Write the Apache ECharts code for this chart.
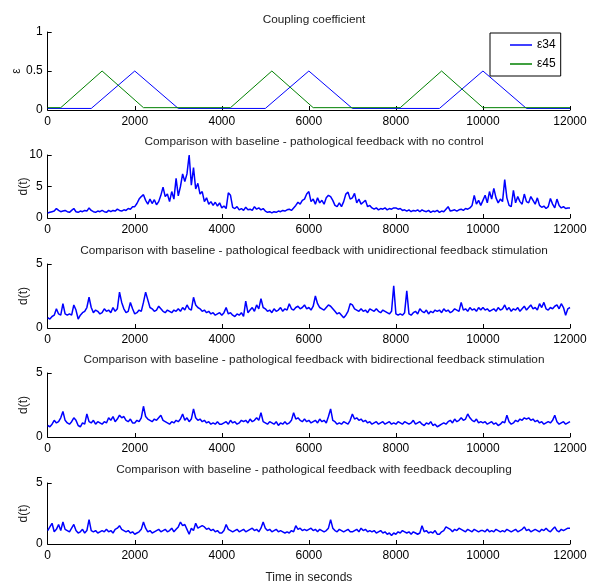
<!DOCTYPE html>
<html>
<head>
<meta charset="utf-8">
<script src="https://cdn.jsdelivr.net/npm/echarts@6/dist/echarts.min.js"></script>
<style>
html, body { margin: 0; padding: 0; background: #fff; }
#chart { width: 592px; height: 585px; }
</style>
</head>
<body>
<div id="chart"></div>
<script>
// coupling coefficient breakpoints (seconds, value)
var eps34T = [0, 1000, 2000, 3000, 5000, 6000, 7000, 9000, 10000, 11000, 12000]
var eps34V = [0.02, 0.02, 0.5, 0.02, 0.02, 0.5, 0.02, 0.02, 0.5, 0.02, 0.02]
var eps45T = [0, 300, 1250, 2200, 4200, 5150, 6100, 8100, 9050, 10000, 12000]
var eps45V = [0.03, 0.03, 0.5, 0.03, 0.03, 0.5, 0.03, 0.03, 0.5, 0.03, 0.03]

// d(t) samples, one every 50 s
var step = 50
var noControl = [
  0.8, 0.9, 1.0, 1.1, 1.5, 1.2, 1.0, 1.1, 1.2, 1.0, 0.9, 1.2, 1.5, 1.0, 0.9, 1.1, 1.0, 1.2, 1.1, 1.6,
  1.2, 1.0, 0.9, 1.1, 1.0, 1.2, 1.0, 0.9, 1.2, 1.0, 1.2, 1.1, 1.4, 1.2, 1.1, 1.3, 1.2, 1.5, 1.4, 1.8,
  1.8, 2.3, 3.0, 3.4, 3.7, 2.8, 2.2, 3.0, 2.3, 2.9, 2.1, 2.6, 3.6, 4.9, 3.4, 3.8, 2.6, 4.2, 3.0, 6.3,
  3.5, 5.0, 7.0, 5.8, 7.0, 10.0, 5.2, 8.0, 4.6, 5.5, 3.8, 4.2, 2.6, 3.2, 2.2, 2.6, 2.0, 2.5, 1.9, 2.4,
  1.6, 1.9, 1.5, 4.0, 3.6, 1.7, 1.5, 1.8, 1.3, 1.5, 1.2, 1.7, 1.3, 1.4, 1.2, 1.8, 1.4, 1.6, 1.3, 1.5,
  1.1, 0.9, 1.0, 0.8, 1.0, 0.9, 1.1, 1.0, 1.2, 1.1, 1.3, 1.4, 1.2, 1.6, 2.0, 2.5, 2.2, 2.8, 3.0, 3.8,
  4.2, 2.6, 3.0, 2.2, 3.2, 2.4, 2.8, 2.2, 3.2, 3.6, 3.4, 2.8, 2.0, 1.8, 2.4, 1.8, 2.6, 3.8, 4.1, 3.0,
  3.2, 3.9, 2.4, 3.0, 2.2, 2.5, 2.8, 1.8, 2.0, 1.6, 1.4, 1.6, 1.3, 1.5, 1.4, 1.6, 1.3, 1.5, 1.4, 1.6,
  1.6, 1.4, 1.5, 1.2, 1.3, 1.1, 1.3, 1.0, 1.2, 1.1, 1.3, 1.0, 1.3, 1.1, 1.0, 1.2, 0.9, 1.1, 1.0, 1.2,
  0.9, 1.1, 1.0, 1.4, 1.8, 1.1, 1.2, 1.3, 1.1, 1.3, 1.4, 1.2, 1.5, 1.4, 1.6, 2.0, 3.6, 2.2, 2.8, 2.0,
  2.8, 3.6, 2.4, 4.2, 3.0, 4.7, 3.2, 2.4, 3.0, 2.6, 6.1, 3.2, 2.0, 1.8, 4.4, 2.4, 3.4, 2.6, 2.2, 3.8,
  2.6, 2.4, 3.4, 2.8, 2.2, 3.2, 2.0, 1.7, 1.9, 1.5, 1.8, 3.1, 2.2, 1.6, 3.0, 2.0, 1.6, 1.8, 1.5, 1.6,
  1.6
]
var unidirectional = [
  0.8, 0.7, 0.9, 1.0, 1.5, 1.1, 1.0, 1.9, 1.1, 1.0, 1.1, 1.0, 1.8, 1.4, 0.7, 1.0, 1.2, 1.3, 1.6, 2.4,
  1.6, 1.2, 1.4, 1.3, 1.1, 1.2, 1.5, 1.3, 1.4, 1.2, 1.6, 1.3, 1.5, 2.8, 2.0, 1.5, 1.2, 1.3, 2.0, 1.5,
  1.1, 1.2, 1.4, 1.3, 2.0, 2.8, 2.2, 1.6, 1.5, 1.3, 1.4, 1.7, 1.5, 1.3, 1.2, 1.4, 1.3, 1.2, 1.4, 1.3,
  1.5, 1.3, 1.6, 1.4, 1.8, 1.5, 1.4, 2.4, 1.8, 1.6, 1.5, 1.3, 1.4, 1.2, 1.3, 1.1, 1.2, 1.0, 1.1, 1.2,
  1.0, 1.2, 1.6, 1.1, 1.2, 1.0, 0.9, 1.1, 1.0, 1.2, 0.9, 2.1, 1.2, 1.4, 1.6, 1.3, 1.8, 1.5, 2.3, 1.6,
  1.5, 1.3, 1.4, 1.2, 1.5, 1.3, 1.4, 1.6, 1.3, 1.5, 1.4, 1.9, 1.5, 1.4, 1.6, 1.7, 1.5, 1.6, 1.8, 1.5,
  1.6, 1.4, 1.7, 2.5, 1.9, 1.6, 1.5, 1.4, 1.6, 1.8, 1.7, 1.5, 1.3, 1.1, 1.2, 1.0, 0.8, 1.0, 1.3, 1.9,
  1.8, 1.5, 1.4, 1.3, 1.5, 1.3, 1.4, 1.2, 1.5, 1.4, 1.3, 1.5, 1.3, 1.2, 1.4, 1.3, 1.2, 1.1, 1.3, 3.3,
  1.1, 1.0, 1.1, 1.0, 1.2, 2.9, 1.1, 1.0, 1.2, 1.3, 1.1, 1.5, 1.3, 1.2, 1.4, 1.1, 1.3, 1.2, 1.4, 1.3,
  1.4, 1.2, 1.5, 1.3, 1.4, 1.2, 1.3, 1.5, 1.4, 1.3, 2.0, 1.4, 1.5, 1.3, 1.6, 1.4, 1.5, 1.3, 1.6, 1.4,
  1.6, 1.4, 1.5, 1.3, 1.4, 1.5, 1.3, 1.6, 1.4, 1.5, 1.8, 1.4, 1.6, 1.3, 1.5, 1.4, 1.6, 1.3, 1.5, 1.7,
  1.4, 1.6, 1.8, 1.5, 1.6, 1.4, 1.9, 1.6, 2.0, 1.5, 1.4, 1.6, 1.5, 1.7, 1.8, 1.5, 1.9, 1.6, 1.0, 1.5,
  1.6
]
var bidirectional = [
  0.9, 0.8, 1.0, 1.3, 1.1, 1.2, 1.5, 2.0, 1.3, 1.1, 1.0, 1.2, 1.5, 1.3, 0.9, 0.8, 1.1, 1.0, 1.8, 1.2,
  1.1, 1.3, 1.0, 1.2, 1.1, 1.0, 1.2, 1.1, 1.5, 1.3, 1.6, 1.2, 1.4, 1.7, 1.5, 1.6, 1.3, 1.2, 1.4, 1.1,
  1.1, 1.3, 1.2, 1.5, 2.4, 1.6, 1.4, 1.3, 1.2, 1.4, 1.3, 1.5, 1.7, 1.3, 1.2, 1.1, 1.0, 1.2, 1.1, 1.3,
  1.2, 1.4, 1.8, 1.3, 1.5, 1.2, 1.4, 2.2, 1.5, 1.3, 1.4, 1.2, 1.3, 1.1, 1.2, 1.0, 1.1, 1.0, 1.2, 1.0,
  1.0, 1.1, 1.2, 1.0, 1.3, 1.1, 1.2, 1.0, 1.1, 1.3, 1.2, 1.3, 1.1, 1.4, 1.2, 1.3, 1.5, 1.3, 1.9, 1.2,
  1.1, 1.0, 1.2, 1.1, 1.0, 1.2, 0.9, 1.1, 1.0, 1.2, 1.0, 1.1, 1.3, 1.9, 1.4, 1.5, 1.3, 1.2, 1.4, 1.2,
  1.3, 1.1, 1.2, 1.3, 1.1, 1.4, 1.2, 1.3, 1.1, 1.6, 2.2, 1.3, 1.2, 1.0, 1.1, 1.0, 1.2, 1.1, 1.0, 1.3,
  1.8, 1.4, 1.5, 1.3, 1.4, 1.2, 1.3, 1.1, 1.2, 1.0, 1.1, 1.2, 1.0, 1.1, 1.2, 1.0, 1.1, 1.2, 1.0, 1.1,
  1.0, 1.2, 1.1, 1.0, 1.2, 1.1, 1.0, 1.1, 1.3, 1.0, 1.1, 1.2, 1.0, 0.9, 1.1, 1.0, 1.2, 0.9, 1.0, 0.8,
  0.9, 1.0, 1.1, 1.0, 1.2, 1.3, 1.1, 1.4, 1.2, 1.3, 1.5, 1.3, 1.4, 1.8, 1.5, 1.3, 1.2, 1.4, 1.1, 1.2,
  1.1, 1.2, 1.0, 1.1, 1.2, 1.0, 1.1, 0.9, 1.0, 1.2, 1.1, 1.7, 1.2, 1.0, 1.1, 1.3, 1.2, 1.4, 1.3, 1.5,
  1.4, 1.5, 1.3, 1.4, 1.2, 1.3, 1.1, 1.2, 1.0, 1.1, 1.2, 1.1, 1.3, 1.7, 1.2, 1.0, 1.1, 1.2, 1.0, 1.1,
  1.2
]
var decoupling = [
  1.1, 1.4, 1.7, 1.0, 1.2, 1.6, 1.1, 1.8, 1.2, 1.1, 1.0, 1.3, 1.6, 1.1, 0.9, 1.0, 1.2, 0.9, 1.1, 2.0,
  1.1, 1.0, 1.1, 0.9, 1.0, 1.1, 1.0, 1.2, 1.0, 1.1, 0.9, 1.2, 1.3, 1.5, 1.2, 1.1, 1.0, 1.1, 0.9, 1.0,
  0.8, 0.9, 1.0, 1.2, 1.8, 1.3, 1.0, 1.1, 0.9, 1.0, 1.1, 1.2, 1.0, 1.1, 1.2, 1.0, 1.1, 1.3, 1.0, 1.2,
  1.4, 1.8, 1.5, 1.6, 1.2, 0.8, 1.3, 1.1, 1.7, 1.3, 1.4, 1.5, 1.4, 1.2, 1.3, 1.1, 1.2, 1.0, 1.1, 0.9,
  0.9, 1.1, 1.6, 1.2, 1.1, 1.0, 1.1, 1.2, 1.0, 1.1, 1.2, 1.0, 1.1, 1.2, 1.3, 1.1, 1.2, 1.0, 1.3, 1.8,
  1.3, 1.1, 1.2, 1.0, 1.1, 1.2, 1.0, 1.1, 1.0, 0.9, 1.0, 0.9, 1.1, 1.0, 1.5, 1.2, 1.3, 1.1, 1.2, 1.1,
  1.2, 1.3, 1.1, 1.2, 1.0, 1.2, 1.1, 1.0, 1.1, 1.3, 2.0, 1.3, 1.1, 1.0, 1.2, 1.1, 1.0, 1.1, 1.2, 1.0,
  1.0, 1.1, 1.2, 1.0, 1.3, 1.1, 1.2, 1.0, 1.1, 1.0, 1.1, 0.9, 1.0, 1.1, 0.9, 1.0, 0.8, 0.9, 0.7, 0.9,
  0.8, 1.0, 0.9, 1.1, 1.0, 0.9, 1.0, 0.8, 1.0, 0.9, 0.8, 0.9, 1.5, 1.0, 1.1, 0.9, 1.0, 0.9, 1.1, 0.8,
  0.8, 1.0, 1.1, 1.4, 1.3, 1.2, 1.0, 1.2, 1.1, 1.3, 1.2, 1.1, 1.0, 1.2, 1.1, 1.0, 1.2, 1.1, 1.0, 1.1,
  1.1, 1.0, 1.2, 1.0, 1.1, 1.0, 1.2, 1.1, 1.0, 1.1, 1.0, 1.2, 1.1, 1.0, 1.1, 1.2, 1.0, 1.1, 1.2, 1.4,
  1.1, 1.2, 1.0, 1.1, 1.2, 1.1, 1.0, 1.2, 1.1, 1.3, 1.1, 1.0, 1.2, 1.4, 1.1, 1.0, 1.2, 1.1, 1.2, 1.3,
  1.3
]

var titles = [
  'Coupling coefficient',
  'Comparison with baseline - pathological feedback with no control',
  'Comparison with baseline - pathological feedback with unidirectional feedback stimulation',
  'Comparison with baseline - pathological feedback with bidirectional feedback stimulation',
  'Comparison with baseline - pathological feedback with feedback decoupling'
]

var font = '"Liberation Sans", Arial, Helvetica, sans-serif'
var gridTops = [32, 155, 264, 373, 483]
var gridHeights = [78, 63, 64, 64, 63]
var titleCenters = [16, 138, 247, 356, 466]

function pairs(t, v) {
  return v.map(function (y, i) { return [t[i], y] })
}
function sampled(v) {
  return v.map(function (y, i) { return [i * step, y] })
}

var grids = [], xAxes = [], yAxes = [], titleList = []
for (var i = 0; i < 5; i++) {
  grids.push({ left: 47.7, right: 22, top: gridTops[i], height: gridHeights[i] })
  titleList.push({
    text: titles[i],
    left: 309,
    textAlign: 'center',
    top: titleCenters[i] - 7,
    textStyle: { fontFamily: font, fontSize: 11.8, fontWeight: 'normal', color: '#222' }
  })
  xAxes.push({
    type: 'value',
    gridIndex: i,
    min: 0,
    max: 12000,
    interval: 2000,
    axisLine: { lineStyle: { color: '#000', width: 1 } },
    axisTick: { inside: true, length: 4, lineStyle: { color: '#000' } },
    axisLabel: {
      color: '#000', fontSize: 12, fontFamily: font, margin: 6,
      formatter: function (v) { return String(v) }
    },
    splitLine: { show: false },
    name: i === 4 ? 'Time in seconds' : '',
    nameLocation: 'middle',
    nameGap: 28,
    nameTextStyle: { color: '#222', fontSize: 12, fontFamily: font }
  })
  yAxes.push({
    type: 'value',
    gridIndex: i,
    min: 0,
    max: i === 0 ? 1 : (i === 1 ? 10 : 5),
    interval: i === 0 ? 0.5 : 5,
    axisLine: { show: true, lineStyle: { color: '#000', width: 1 } },
    axisTick: { show: true, inside: true, length: 4, lineStyle: { color: '#000' } },
    axisLabel: { color: '#000', fontSize: 12, fontFamily: font, margin: 5 },
    splitLine: { show: false },
    name: i === 0 ? 'ε' : 'd(t)',
    nameLocation: 'middle',
    nameRotate: 90,
    nameMoveOverlap: false,
    nameGap: i === 0 ? 25 : 18,
    nameTextStyle: { color: '#222', fontSize: 12, fontFamily: font }
  })
}

function noisy(data, idx) {
  return {
    type: 'line',
    xAxisIndex: idx,
    yAxisIndex: idx,
    data: sampled(data),
    symbol: 'none',
    lineStyle: { color: '#0000ff', width: 1.5 }
  }
}

var option = {
  animation: false,
  title: titleList,
  grid: grids,
  xAxis: xAxes,
  yAxis: yAxes,
  legend: {
    left: 490,
    top: 33,
    orient: 'vertical',
    backgroundColor: '#fff',
    borderColor: '#000',
    borderWidth: 1,
    borderRadius: 0,
    padding: [6, 5, 6, 20],
    itemGap: 7,
    itemWidth: 22,
    itemHeight: 1.5,
    icon: 'rect',
    textStyle: { fontFamily: font, fontSize: 12, color: '#000' },
    data: ['ε34', 'ε45']
  },
  series: [
    {
      name: 'ε34',
      type: 'line',
      xAxisIndex: 0,
      yAxisIndex: 0,
      data: pairs(eps34T, eps34V),
      symbol: 'none',
      itemStyle: { color: '#0000ff' },
      lineStyle: { color: '#0000ff', width: 1 }
    },
    {
      name: 'ε45',
      type: 'line',
      xAxisIndex: 0,
      yAxisIndex: 0,
      data: pairs(eps45T, eps45V),
      symbol: 'none',
      itemStyle: { color: '#008000' },
      lineStyle: { color: '#008000', width: 1 }
    },
    noisy(noControl, 1),
    noisy(unidirectional, 2),
    noisy(bidirectional, 3),
    noisy(decoupling, 4)
  ]
}

var chart = echarts.init(document.getElementById('chart'))
chart.setOption(option)
</script>
</body>
</html>
